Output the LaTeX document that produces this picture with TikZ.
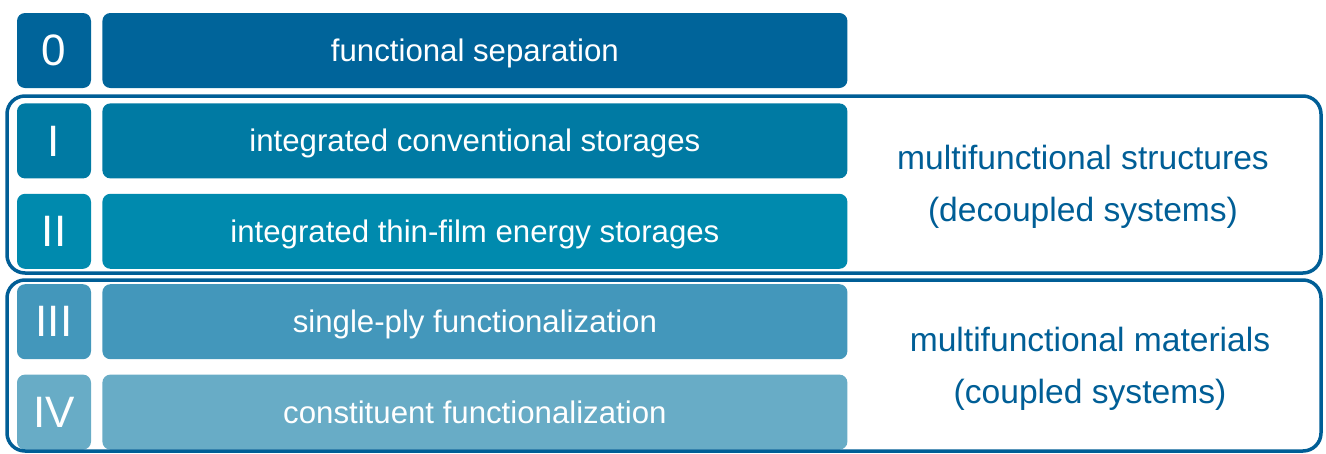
\documentclass[tikz,border=0pt]{standalone}
\usepackage{fontspec}
\setmainfont{Liberation Sans}
\usetikzlibrary{positioning}

\definecolor{lvzero}{HTML}{00649A}
\definecolor{lvone}{HTML}{007AA3}
\definecolor{lvtwo}{HTML}{008AAE}
\definecolor{lvthree}{HTML}{4397BB}
\definecolor{lvfour}{HTML}{68ACC6}
\definecolor{framecol}{HTML}{005E96}

\tikzset{
  numbox/.style={rounded corners=8pt,minimum width=74pt,minimum height=75pt,inner sep=0pt,
    text=white,font=\fontsize{44}{50}\selectfont},
  rowbox/.style={rounded corners=8pt,minimum width=745pt,minimum height=75pt,inner sep=0pt,
    text height=28pt,text depth=6pt,text=white,font=\fontsize{31.2}{37}\selectfont},
  groupframe/.style={draw=framecol,line width=3.5pt,rounded corners=18pt},
  grouplabel/.style={text=framecol,align=center,font=\fontsize{33.6}{52}\selectfont}
}

\begin{document}
\begin{tikzpicture}[x=1pt,y=-1pt,line join=round]
\useasboundingbox (0,0) rectangle (1326,453);
% levels
\node[numbox,fill=lvzero] (n0) at (54,50.5) {0};
\node[rowbox,fill=lvzero,right=11pt of n0] (r0) {functional separation};
\node[numbox,fill=lvone,below=15pt of n0] (n1) {I};
\node[rowbox,fill=lvone,right=11pt of n1] (r1) {integrated conventional storages};
\node[numbox,fill=lvtwo,below=15pt of n1] (n2) {II};
\node[rowbox,fill=lvtwo,right=11pt of n2] (r2) {integrated thin-film energy storages};
\node[numbox,fill=lvthree,below=15pt of n2] (n3) {III};
\node[rowbox,fill=lvthree,right=11pt of n3] (r3) {single-ply functionalization};
\node[numbox,fill=lvfour,below=15pt of n3] (n4) {IV};
\node[rowbox,fill=lvfour,right=11pt of n4] (r4) {constituent functionalization};
% groups
\draw[groupframe] (7,96) rectangle (1321,273);
\draw[groupframe] (7,280) rectangle (1321,451);
\node[grouplabel] (g1) at (1083,187) {multifunctional structures\\(decoupled systems)};
\node[grouplabel] (g2) at (1090,369) {multifunctional materials\\(coupled systems)};
\end{tikzpicture}
\end{document}
